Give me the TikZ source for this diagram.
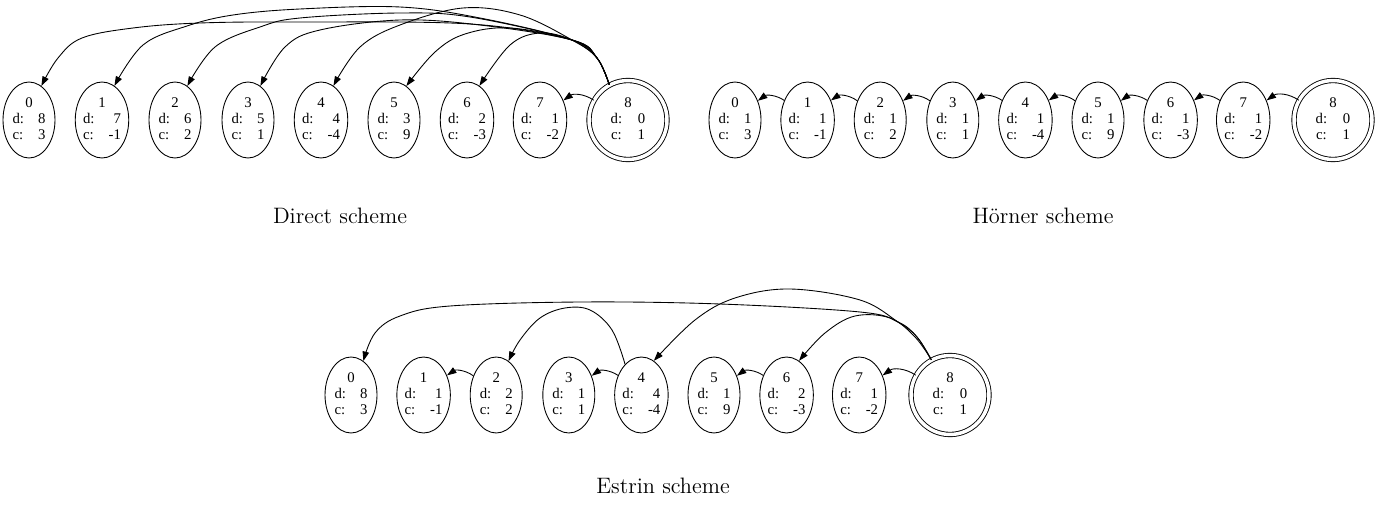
\documentclass[tikz,border=0pt]{standalone}
\usepackage{fontspec}
\newfontfamily\timesfont{Liberation Serif}
\usetikzlibrary{arrows.meta,shapes.geometric}
\newcommand\nlab[3]{\begin{tabular}{@{}l@{\hspace{8pt}}r@{}}\multicolumn{2}{@{}c@{}}{#1}\\d: & #2\\c: & #3\end{tabular}}
\newcommand\finlab{\begin{tabular}{@{}c@{}}8\\d:\hspace{9pt}0\hspace{10.4pt}\\c:\hspace{9pt}1\hspace{1.6pt}\end{tabular}}
\begin{document}
\begin{tikzpicture}[x=0.02cm,y=-0.02cm,
  st/.style={draw, ellipse, line width=0.5pt, inner sep=0pt, minimum width=1.04cm, minimum height=1.52cm, font=\timesfont\fontsize{8.4}{9.2}\selectfont},
  fin/.style={draw, ellipse, line width=0.5pt, double, double distance=0.07cm, inner sep=0pt, minimum width=1.56cm, minimum height=1.58cm, font=\timesfont\fontsize{8.4}{9.2}\selectfont},
  conn/.style={line width=0.5pt, -{Triangle[length=0.19cm,width=0.13cm]}},
  captext/.style={font=\fontsize{12.7}{15}\selectfont, anchor=base}
]
\useasboundingbox (0,0) rectangle (1375,513);
% Direct
\foreach \i/\dv/\cv in {0/8/3,1/7/-1,2/6/2,3/5/1,4/4/-4,5/3/9,6/2/-3,7/1/-2}
  \node[st] (d\i) at ({29+73*\i},120) {\nlab{\i}{\dv}{\cv}};
\node[fin] (d8) at (628,120) {\finlab};
% Horner
\foreach \i/\cv in {0/3,1/-1,2/2,3/1,4/-4,5/9,6/-3,7/-2}
  \node[st] (h\i) at ({735+72.6*\i},120) {\nlab{\i}{1}{\cv}};
\node[fin] (h8) at (1333,120) {\finlab};
% Estrin
\foreach \i/\dv/\cv in {0/8/3,1/1/-1,2/2/2,3/1/1,4/4/-4,5/1/9,6/2/-3,7/1/-2}
  \node[st] (e\i) at ({351+72.6*\i},395) {\nlab{\i}{\dv}{\cv}};
\node[fin] (e8) at (950,395) {\finlab};
% captions
\node[captext] (t1) at (340,223) {Direct scheme};
\node[captext] (t2) at (1043,223) {Hörner scheme};
\node[captext] (t3) at (663,493) {Estrin scheme};
% Direct edges
\draw[conn] plot[smooth, tension=0.6] coordinates {(d8.118) (597,58) (572,40) (470,24) (300,22) (200,23) (133,28) (82,38) (58,58) (d0.70)};
\draw[conn] plot[smooth, tension=0.6] coordinates {(d8.118) (597,58) (572,40) (480,18) (400,7) (300,9) (233,15) (187,26) (143,45) (d1.70)};
\draw[conn] plot[smooth, tension=0.6] coordinates {(d8.118) (597,58) (572,40) (470,17) (400,13) (300,18) (260,27) (215,47) (d2.70)};
\draw[conn] plot[smooth, tension=0.6] coordinates {(d8.118) (597,58) (572,40) (480,25) (400,20) (320,30) (285,47) (d3.70)};
\draw[conn] plot[smooth, tension=0.6] coordinates {(d8.118) (597,58) (572,40) (520,15) (463,8) (400,25) (360,47) (d4.70)};
\draw[conn] plot[smooth, tension=0.6] coordinates {(d8.118) (597,58) (572,40) (510,28) (465,34) (435,52) (d5.70)};
\draw[conn] plot[smooth, tension=0.6] coordinates {(d8.118) (597,58) (572,40) (540,33) (510,45) (d6.70)};
\draw[conn] (d8.150) to[bend right=35] (d7.40);
% Horner edges
\foreach \i [evaluate=\i as \j using int(\i+1)] in {0,...,6}
  \draw[conn] (h\j.140) to[bend right=35] (h\i.40);
\draw[conn] (h8.150) to[bend right=35] (h7.40);
% Estrin edges
\draw[conn] plot[smooth, tension=0.6] coordinates {(e8.118) (917,337) (898,322) (860,312) (720,304) (580,302) (450,306) (400,316) (375,333) (e0.70)};
\draw[conn] plot[smooth, tension=0.6] coordinates {(e8.118) (917,337) (898,322) (860,300) (790,289) (735,298) (695,320) (e4.70)};
\draw[conn] plot[smooth, tension=0.6] coordinates {(e8.118) (915,337) (890,318) (855,316) (825,333) (e6.70)};
\draw[conn] plot[smooth, tension=0.6] coordinates {(e4.118) (612,330) (590,310) (565,308) (540,318) (520,340) (e2.70)};
\draw[conn] (e2.140) to[bend right=35] (e1.40);
\draw[conn] (e4.140) to[bend right=35] (e3.40);
\draw[conn] (e6.140) to[bend right=35] (e5.40);
\draw[conn] (e8.150) to[bend right=35] (e7.40);
\end{tikzpicture}
\end{document}
